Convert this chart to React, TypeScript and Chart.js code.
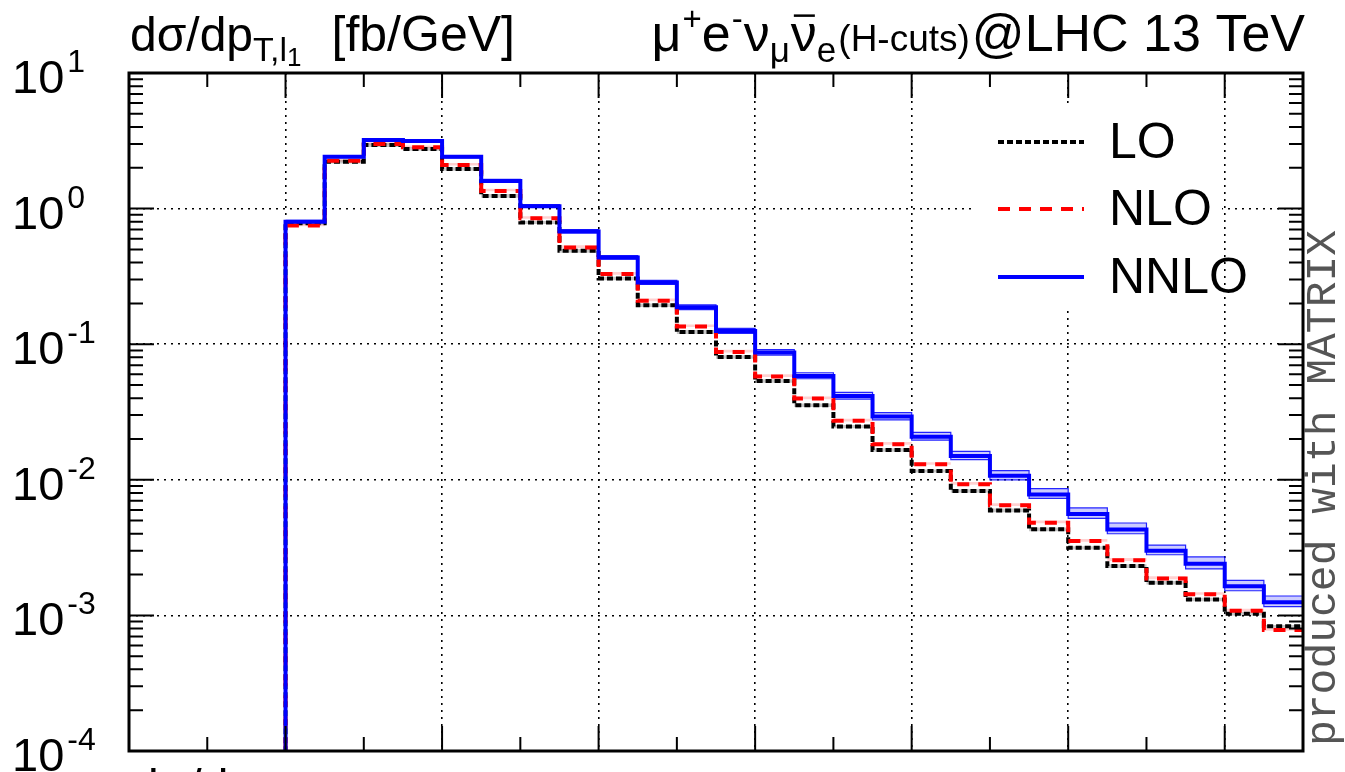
import React, { useEffect, useRef } from "react";
import { Chart, registerables } from "chart.js";
Chart.register(...registerables);

// ---- data (pT of leading lepton, 5 GeV bins from 20 to 150 GeV) ----
const binEdges = [20, 25, 30, 35, 40, 45, 50, 55, 60, 65, 70, 75, 80, 85, 90, 95, 100, 105, 110, 115, 120, 125, 130, 135, 140, 145, 150];

const loValues = [0.78, 2.22, 2.94, 2.75, 1.96, 1.24, 0.79, 0.488, 0.305, 0.194, 0.123, 0.0806, 0.0536, 0.0355, 0.0247, 0.0166, 0.0116, 0.00826, 0.00595, 0.00431, 0.00315, 0.00231, 0.00174, 0.00131, 0.00103, 0.00083];
const nloValues = [0.75, 2.25, 2.99, 2.83, 2.10, 1.35, 0.85, 0.517, 0.329, 0.209, 0.135, 0.0877, 0.0578, 0.0397, 0.0272, 0.0183, 0.0130, 0.00927, 0.00648, 0.00483, 0.00353, 0.00255, 0.00187, 0.00143, 0.00108, 0.00078];
const nnloValues = [0.80, 2.41, 3.20, 3.15, 2.41, 1.60, 1.04, 0.679, 0.436, 0.285, 0.187, 0.125, 0.0868, 0.0583, 0.0415, 0.0293, 0.0208, 0.0150, 0.0107, 0.0078, 0.0056, 0.0043, 0.0030, 0.0024, 0.00164, 0.00125];

const loUpper = [0.80, 2.29, 3.03, 2.83, 2.02, 1.28, 0.81, 0.503, 0.314, 0.200, 0.127, 0.0830, 0.0552, 0.0366, 0.0254, 0.0171, 0.0119, 0.00851, 0.00613, 0.00444, 0.00324, 0.00238, 0.00179, 0.00135, 0.00106, 0.00085];
const loLower = [0.76, 2.15, 2.85, 2.67, 1.90, 1.20, 0.77, 0.473, 0.296, 0.188, 0.119, 0.0782, 0.0520, 0.0344, 0.0240, 0.0161, 0.0113, 0.00801, 0.00577, 0.00418, 0.00306, 0.00224, 0.00169, 0.00127, 0.00100, 0.00081];
const nloUpper = [0.78, 2.33, 3.09, 2.92, 2.17, 1.40, 0.88, 0.536, 0.341, 0.217, 0.140, 0.0910, 0.0600, 0.0412, 0.0282, 0.0190, 0.0135, 0.00962, 0.00672, 0.00501, 0.00366, 0.00265, 0.00194, 0.00148, 0.00112, 0.00081];
const nloLower = [0.74, 2.22, 2.96, 2.80, 2.08, 1.34, 0.84, 0.511, 0.325, 0.207, 0.134, 0.0868, 0.0572, 0.0393, 0.0269, 0.0181, 0.0129, 0.00918, 0.00642, 0.00478, 0.00349, 0.00252, 0.00185, 0.00142, 0.00107, 0.00077];
const nnloUpper = [0.82, 2.45, 3.25, 3.21, 2.46, 1.64, 1.07, 0.70, 0.451, 0.296, 0.195, 0.131, 0.0912, 0.0616, 0.0441, 0.0313, 0.0224, 0.0162, 0.0117, 0.0086, 0.0062, 0.0048, 0.0033, 0.0027, 0.00181, 0.00139];
const nnloLower = [0.79, 2.38, 3.16, 3.11, 2.37, 1.57, 1.02, 0.663, 0.424, 0.276, 0.180, 0.120, 0.0831, 0.0556, 0.0394, 0.0277, 0.0196, 0.0141, 0.0100, 0.0073, 0.0052, 0.0040, 0.0028, 0.0022, 0.00152, 0.00116];

// empty histogram below the first bin (drawn off the bottom of the log axis)
const emptyBinValue = 1e-6;

const xMin = 0;
const xMax = 150;
const yMin = 1e-4;
const yMax = 10;
const xGridTicks = [20, 40, 60, 80, 100, 120, 140];
const xMinorTicks = [10, 30, 50, 70, 90, 110, 130];
const yGridTicks = [10, 1, 0.1, 0.01, 0.001, 0.0001];
const yTickExponents = ["1", "0", "-1", "-2", "-3", "-4"];
const yTickBase = "10";
const legendLabels = ["LO", "NLO", "NNLO"];

const SANS = '"Liberation Sans", Arial, Helvetica, sans-serif';

function histPoints(vals: number[], withDrop: boolean) {
  const pts: { x: number; y: number }[] = [];
  if (withDrop) pts.push({ x: binEdges[0], y: emptyBinValue });
  vals.forEach((v, i) => {
    pts.push({ x: binEdges[i], y: v });
    pts.push({ x: binEdges[i + 1], y: v });
  });
  return pts;
}

type Run = { t: string; s: number; dy: number; bar?: boolean; gap?: number };

function runsWidth(ctx: CanvasRenderingContext2D, runs: Run[]) {
  let w = 0;
  for (const r of runs) {
    ctx.font = `${r.s}px ${SANS}`;
    w += ctx.measureText(r.t).width + (r.gap || 0);
  }
  return w;
}

function drawRuns(ctx: CanvasRenderingContext2D, runs: Run[], x0: number, base: number) {
  let x = x0;
  ctx.textBaseline = "alphabetic";
  ctx.textAlign = "left";
  for (const r of runs) {
    x += r.gap || 0;
    ctx.font = `${r.s}px ${SANS}`;
    ctx.fillText(r.t, x, base + r.dy);
    const w = ctx.measureText(r.t).width;
    if (r.bar) {
      ctx.save();
      ctx.lineWidth = 2.5;
      ctx.beginPath();
      ctx.moveTo(x + 3, base + r.dy - r.s * 0.68);
      ctx.lineTo(x + w - 2, base + r.dy - r.s * 0.68);
      ctx.stroke();
      ctx.restore();
    }
    x += w;
  }
}

const leftTitle: Run[] = [
  { t: "dσ/dp", s: 48, dy: 0 },
  { t: "T,l", s: 34, dy: 10 },
  { t: "1", s: 26, dy: 15 },
  { t: "[fb/GeV]", s: 50, dy: 0, gap: 30 },
];

const rightTitle: Run[] = [
  { t: "μ", s: 52, dy: 0 },
  { t: "+", s: 33, dy: -21, gap: 1 },
  { t: "e", s: 52, dy: 0 },
  { t: "-", s: 33, dy: -21, gap: 1 },
  { t: "ν", s: 52, dy: 0, gap: 1 },
  { t: "μ", s: 35, dy: 11 },
  { t: "ν", s: 52, dy: 0, bar: true, gap: 1 },
  { t: "e", s: 35, dy: 11 },
  { t: "(H-cuts)", s: 37, dy: 0, gap: 2 },
  { t: "@LHC 13 TeV", s: 52, dy: 0, gap: 2 },
];

const decor = {
  id: "decor",
  beforeDatasetsDraw(chart: any) {
    const ctx = chart.ctx as CanvasRenderingContext2D;
    ctx.save();
    ctx.fillStyle = "#ffffff";
    ctx.fillRect(976, 104, 246, 204);
    ctx.restore();
  },
  afterDraw(chart: any) {
    const ctx = chart.ctx as CanvasRenderingContext2D;
    const a = chart.chartArea;
    const xs = chart.scales.x;
    const ys = chart.scales.y;
    ctx.save();
    ctx.strokeStyle = "#000";
    ctx.fillStyle = "#000";

    // tick marks (inward, all four sides)
    ctx.lineWidth = 2;
    ctx.beginPath();
    const xTick = (v: number, len: number) => {
      const px = xs.getPixelForValue(v);
      ctx.moveTo(px, a.bottom);
      ctx.lineTo(px, a.bottom - len);
      ctx.moveTo(px, a.top);
      ctx.lineTo(px, a.top + len);
    };
    xGridTicks.forEach((v) => xTick(v, 25));
    xMinorTicks.forEach((v) => xTick(v, 14));
    const yTick = (v: number, len: number) => {
      const py = ys.getPixelForValue(v);
      ctx.moveTo(a.left, py);
      ctx.lineTo(a.left + len, py);
      ctx.moveTo(a.right, py);
      ctx.lineTo(a.right - len, py);
    };
    yGridTicks.forEach((v) => yTick(v, 25));
    yGridTicks.slice(1).forEach((d) => {
      for (let m = 2; m <= 9; m++) yTick(d * m, 14);
    });
    ctx.stroke();

    // frame
    ctx.lineWidth = 3;
    ctx.strokeRect(a.left, a.top, a.right - a.left, a.bottom - a.top);

    // y tick labels
    yGridTicks.forEach((v, i) => {
      const py = ys.getPixelForValue(v);
      ctx.font = `47px ${SANS}`;
      ctx.textBaseline = "alphabetic";
      ctx.textAlign = "left";
      ctx.fillText(yTickBase, 12, py + 20);
      const w = ctx.measureText(yTickBase).width;
      ctx.font = `32px ${SANS}`;
      ctx.fillText(yTickExponents[i], 12 + w + 3, py - 1);
    });

    // titles
    ctx.fillStyle = "#000";
    drawRuns(ctx, leftTitle, 130, 51);
    const rw = runsWidth(ctx, rightTitle);
    drawRuns(ctx, rightTitle, 1305 - rw, 51);

    // partially visible label of the panel below
    ctx.font = `48px ${SANS}`;
    ctx.textBaseline = "alphabetic";
    ctx.fillText("dσ/dσ", 132, 803);

    // legend
    const rows = [142, 209, 277];
    const styles = [
      { c: "#000000", d: [6, 3] },
      { c: "#ff0000", d: [12, 9] },
      { c: "#0000ff", d: [] as number[] },
    ];
    rows.forEach((ry, i) => {
      ctx.save();
      ctx.strokeStyle = styles[i].c;
      ctx.lineWidth = 4;
      ctx.setLineDash(styles[i].d);
      ctx.beginPath();
      ctx.moveTo(998, ry);
      ctx.lineTo(1084, ry);
      ctx.stroke();
      ctx.restore();
      ctx.font = `50px ${SANS}`;
      ctx.textBaseline = "middle";
      ctx.fillStyle = "#000";
      ctx.fillText(legendLabels[i], 1109, ry + 2);
    });

    // vertical stamp
    ctx.save();
    ctx.translate(1335, 746);
    ctx.rotate(-Math.PI / 2);
    ctx.font = `43px "Liberation Mono", "DejaVu Sans Mono", monospace`;
    ctx.fillStyle = "#555";
    ctx.textBaseline = "alphabetic";
    ctx.textAlign = "left";
    ctx.fillText("produced with MATRIX", 0, 0);
    ctx.restore();

    ctx.restore();
  },
};

export default function App() {
  const ref = useRef<HTMLCanvasElement>(null);
  useEffect(() => {
    const band = (up: number[], down: number[], fillColor: string, edge: string, w: number) => [
      { data: histPoints(up, false), borderColor: edge, borderWidth: w, backgroundColor: fillColor, fill: "+1", pointRadius: 0, order: 5 },
      { data: histPoints(down, false), borderColor: edge, borderWidth: w, backgroundColor: fillColor, fill: false, pointRadius: 0, order: 5 },
    ];
    const datasets: any[] = [
      ...band(loUpper, loLower, "rgba(0,0,0,0.22)", "transparent", 1),
      ...band(nloUpper, nloLower, "rgba(255,0,0,0.18)", "transparent", 1),
      ...band(nnloUpper, nnloLower, "rgba(0,0,255,0.2)", "rgba(0,0,255,0.85)", 1.2),
      { label: "LO", data: histPoints(loValues, true), borderColor: "#000000", borderWidth: 4, borderDash: [6, 3], fill: false, pointRadius: 0, order: 2, borderCapStyle: "butt", borderJoinStyle: "miter" },
      { label: "NLO", data: histPoints(nloValues, true), borderColor: "#ff0000", borderWidth: 4, borderDash: [12, 9], fill: false, pointRadius: 0, order: 1, borderCapStyle: "butt", borderJoinStyle: "miter" },
      { label: "NNLO", data: histPoints(nnloValues, true), borderColor: "#0000ff", borderWidth: 4, fill: false, pointRadius: 0, order: 0, borderCapStyle: "butt", borderJoinStyle: "miter" },
    ];
    const chart = new Chart(ref.current as HTMLCanvasElement, {
      type: "line",
      data: { datasets },
      options: {
        responsive: false,
        animation: false,
        devicePixelRatio: 1,
        layout: { padding: { left: 129, top: 73, right: 42, bottom: 21 } },
        plugins: { legend: { display: false }, tooltip: { enabled: false } },
        elements: { point: { radius: 0 }, line: { tension: 0 } },
        scales: {
          x: {
            type: "linear",
            min: xMin,
            max: xMax,
            afterBuildTicks: (s: any) => {
              s.ticks = xGridTicks.map((v) => ({ value: v }));
            },
            ticks: { display: false },
            grid: { color: "#000", lineWidth: 1.6, drawTicks: false },
            border: { display: false, dash: [2, 5] },
          },
          y: {
            type: "logarithmic",
            min: yMin,
            max: yMax,
            afterBuildTicks: (s: any) => {
              s.ticks = yGridTicks.map((v) => ({ value: v }));
            },
            ticks: { display: false },
            grid: { color: "#000", lineWidth: 1.6, drawTicks: false },
            border: { display: false, dash: [2, 5] },
          },
        },
      } as any,
      plugins: [decor],
    });
    return () => chart.destroy();
  }, []);
  return (
    <div style={{ position: "fixed", left: 0, top: 0, width: 1345, height: 772, background: "#fff" }}>
      <canvas ref={ref} width={1345} height={772} style={{ display: "block", width: 1345, height: 772 }} />
    </div>
  );
}
